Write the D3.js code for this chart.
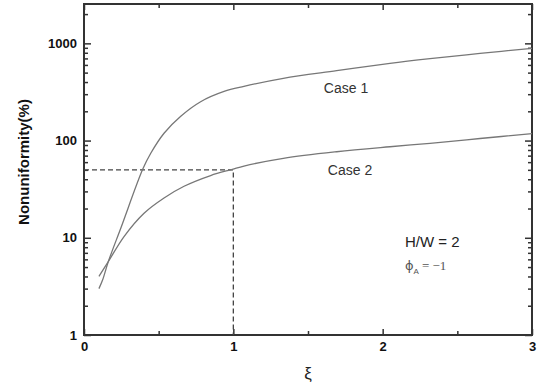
<!DOCTYPE html>
<html>
<head>
<meta charset="utf-8">
<script src="https://cdn.jsdelivr.net/npm/d3@7"></script>
<style>
body { margin: 0; background: #fff; }
text { font-family: Arial, "Liberation Sans", sans-serif; }
</style>
</head>
<body>
<div id="chart"></div>
<script>
var width = 541;
var height = 383;
var margin = {left: 84, right: 9, top: 4, bottom: 48};

// values (xi, nonuniformity %)
var case1X = [0.10, 0.125, 0.163, 0.25, 0.393, 0.447, 0.536, 0.648, 0.781, 0.938, 1.071, 1.335, 1.692, 2.049, 2.317, 2.652, 3.0];
var case1Y = [3.0, 3.7, 5.7, 13, 50.6, 74, 119, 178, 251, 320, 361, 437, 523, 622, 695, 787, 890];
var case2X = [0.10, 0.163, 0.268, 0.402, 0.536, 0.670, 0.848, 0.993, 1.071, 1.335, 1.692, 2.049, 2.317, 2.652, 3.0];
var case2Y = [4.0, 5.7, 10.3, 17.9, 25.7, 33.9, 43.7, 50.6, 54.7, 65.6, 76.7, 86.4, 93.7, 105, 118];
var xTicks = [0, 1, 2, 3];
var xMinor = [0.5, 1.5, 2.5];
var yTicks = [1, 10, 100, 1000];
var refX = 1, refY = 50;

var svg = d3.select("#chart").append("svg")
  .attr("width", width)
  .attr("height", height);

var x = d3.scaleLinear().domain([0, 3]).range([margin.left, width - margin.right]);
var y = d3.scaleLog().domain([1, 2540]).range([height - margin.bottom, margin.top]);

// minor log ticks 2..9 per decade
var yMinor = [];
for (var d = 1; d <= 1000; d *= 10) for (var k = 2; k <= 9; k++) if (d * k < 2540) yMinor.push(d * k);

var axisColor = "#333";

function styleAxis(g) {
  g.select(".domain").remove();
  g.selectAll(".tick line").attr("stroke", axisColor).attr("stroke-width", 1.5);
}

// left / right
svg.append("g").attr("transform", "translate(" + margin.left + ",0)")
  .call(d3.axisLeft(y).tickValues(yTicks).tickSize(-7).tickPadding(7).tickFormat(d3.format("d")))
  .call(styleAxis)
  .selectAll("text").style("font-size", "13px").style("font-weight", "bold").attr("fill", "#111");
svg.append("g").attr("transform", "translate(" + margin.left + ",0)")
  .call(d3.axisLeft(y).tickValues(yMinor).tickSize(-4).tickFormat(""))
  .call(styleAxis);
svg.append("g").attr("transform", "translate(" + (width - margin.right) + ",0)")
  .call(d3.axisRight(y).tickValues(yTicks).tickSize(-7).tickFormat(""))
  .call(styleAxis);
svg.append("g").attr("transform", "translate(" + (width - margin.right) + ",0)")
  .call(d3.axisRight(y).tickValues(yMinor).tickSize(-4).tickFormat(""))
  .call(styleAxis);

// bottom / top
svg.append("g").attr("transform", "translate(0," + (height - margin.bottom) + ")")
  .call(d3.axisBottom(x).tickValues(xTicks).tickSize(-6).tickPadding(7).tickFormat(d3.format("d")))
  .call(styleAxis)
  .selectAll("text").style("font-size", "13px").style("font-weight", "bold").attr("fill", "#111");
svg.append("g").attr("transform", "translate(0," + (height - margin.bottom) + ")")
  .call(d3.axisBottom(x).tickValues(xMinor).tickSize(-4).tickFormat(""))
  .call(styleAxis);
svg.append("g").attr("transform", "translate(0," + margin.top + ")")
  .call(d3.axisTop(x).tickValues(xTicks).tickSize(-6).tickFormat(""))
  .call(styleAxis);
svg.append("g").attr("transform", "translate(0," + margin.top + ")")
  .call(d3.axisTop(x).tickValues(xMinor).tickSize(-4).tickFormat(""))
  .call(styleAxis);

// frame
svg.append("rect")
  .attr("x", margin.left).attr("y", margin.top)
  .attr("width", width - margin.left - margin.right)
  .attr("height", height - margin.top - margin.bottom)
  .attr("fill", "none").attr("stroke", axisColor).attr("stroke-width", 2);

// dashed guide lines
svg.append("path")
  .attr("d", "M" + x(0) + "," + y(refY) + "H" + x(refX) + "V" + y(1))
  .attr("fill", "none").attr("stroke", "#444").attr("stroke-width", 1.3)
  .attr("stroke-dasharray", "5,3");

var line = d3.line()
  .x(function(d) { return x(d[0]); })
  .y(function(d) { return y(d[1]); })
  .curve(d3.curveCatmullRom.alpha(0.5));

[[case1X, case1Y], [case2X, case2Y]].forEach(function(c) {
  svg.append("path")
    .attr("d", line(d3.zip(c[0], c[1])))
    .attr("fill", "none").attr("stroke", "#777").attr("stroke-width", 1.3);
});

// labels
svg.append("text").attr("x", 346).attr("y", 93).attr("text-anchor", "middle")
  .style("font-size", "14px").attr("fill", "#333").text("Case 1");
svg.append("text").attr("x", 350).attr("y", 175).attr("text-anchor", "middle")
  .style("font-size", "14px").attr("fill", "#333").text("Case 2");
svg.append("text").attr("x", 405).attr("y", 247)
  .style("font-size", "15px").attr("fill", "#222").text("H/W = 2");
var phi = svg.append("text").attr("x", 405).attr("y", 270)
  .style("font-size", "13px").attr("fill", "#555");
phi.append("tspan").style("font-family", "'DejaVu Sans', sans-serif").text("ϕ");
phi.append("tspan").attr("dy", 4).style("font-size", "8px").text("A");
phi.append("tspan").attr("dy", -4).attr("dx", 3).style("font-family", "'Liberation Serif', serif").text("= −1");

svg.append("text")
  .attr("transform", "translate(29," + 162 + ") rotate(-90)")
  .attr("text-anchor", "middle")
  .style("font-size", "15px").style("font-weight", "bold").attr("fill", "#111")
  .text("Nonuniformity(%)");
svg.append("text").attr("x", 308).attr("y", 379).attr("text-anchor", "middle")
  .style("font-size", "17px").attr("fill", "#222").text("ξ");
</script>
</body>
</html>
